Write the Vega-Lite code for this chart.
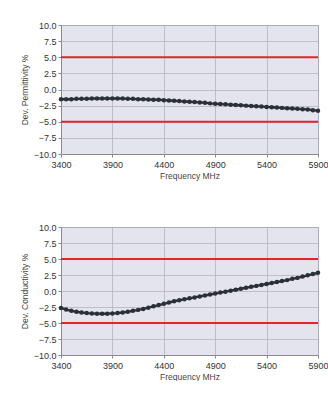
{
  "$schema": "https://vega.github.io/schema/vega-lite/v6.json",
  "background": "white",
  "padding": {"left": 19, "top": 20, "right": 0, "bottom": 0},
  "spacing": 42,
  "datasets": {
    "perm": [
      {"f": 3400, "v": -1.5}, {"f": 3450, "v": -1.5}, {"f": 3500, "v": -1.5}, {"f": 3550, "v": -1.45}, {"f": 3600, "v": -1.45},
      {"f": 3650, "v": -1.45}, {"f": 3700, "v": -1.4}, {"f": 3750, "v": -1.4}, {"f": 3800, "v": -1.4}, {"f": 3850, "v": -1.4},
      {"f": 3900, "v": -1.4}, {"f": 3950, "v": -1.4}, {"f": 4000, "v": -1.4}, {"f": 4050, "v": -1.45}, {"f": 4100, "v": -1.45},
      {"f": 4150, "v": -1.5}, {"f": 4200, "v": -1.5}, {"f": 4250, "v": -1.55}, {"f": 4300, "v": -1.6}, {"f": 4350, "v": -1.6},
      {"f": 4400, "v": -1.65}, {"f": 4450, "v": -1.7}, {"f": 4500, "v": -1.75}, {"f": 4550, "v": -1.8}, {"f": 4600, "v": -1.85},
      {"f": 4650, "v": -1.9}, {"f": 4700, "v": -1.95}, {"f": 4750, "v": -2.0}, {"f": 4800, "v": -2.05}, {"f": 4850, "v": -2.15},
      {"f": 4900, "v": -2.2}, {"f": 4950, "v": -2.25}, {"f": 5000, "v": -2.3}, {"f": 5050, "v": -2.35}, {"f": 5100, "v": -2.4},
      {"f": 5150, "v": -2.45}, {"f": 5200, "v": -2.5}, {"f": 5250, "v": -2.55}, {"f": 5300, "v": -2.6}, {"f": 5350, "v": -2.65},
      {"f": 5400, "v": -2.7}, {"f": 5450, "v": -2.75}, {"f": 5500, "v": -2.8}, {"f": 5550, "v": -2.85}, {"f": 5600, "v": -2.9},
      {"f": 5650, "v": -2.95}, {"f": 5700, "v": -3.0}, {"f": 5750, "v": -3.05}, {"f": 5800, "v": -3.1}, {"f": 5850, "v": -3.2},
      {"f": 5900, "v": -3.3}
    ],
    "cond": [
      {"f": 3400, "v": -2.65}, {"f": 3450, "v": -2.9}, {"f": 3500, "v": -3.1}, {"f": 3550, "v": -3.25}, {"f": 3600, "v": -3.35},
      {"f": 3650, "v": -3.45}, {"f": 3700, "v": -3.5}, {"f": 3750, "v": -3.55}, {"f": 3800, "v": -3.55}, {"f": 3850, "v": -3.55},
      {"f": 3900, "v": -3.5}, {"f": 3950, "v": -3.45}, {"f": 4000, "v": -3.35}, {"f": 4050, "v": -3.25}, {"f": 4100, "v": -3.1},
      {"f": 4150, "v": -2.95}, {"f": 4200, "v": -2.8}, {"f": 4250, "v": -2.6}, {"f": 4300, "v": -2.4}, {"f": 4350, "v": -2.2},
      {"f": 4400, "v": -2.0}, {"f": 4450, "v": -1.8}, {"f": 4500, "v": -1.6}, {"f": 4550, "v": -1.45}, {"f": 4600, "v": -1.3},
      {"f": 4650, "v": -1.15}, {"f": 4700, "v": -1.0}, {"f": 4750, "v": -0.85}, {"f": 4800, "v": -0.7}, {"f": 4850, "v": -0.55},
      {"f": 4900, "v": -0.4}, {"f": 4950, "v": -0.25}, {"f": 5000, "v": -0.1}, {"f": 5050, "v": 0.05}, {"f": 5100, "v": 0.2},
      {"f": 5150, "v": 0.35}, {"f": 5200, "v": 0.5}, {"f": 5250, "v": 0.65}, {"f": 5300, "v": 0.8}, {"f": 5350, "v": 0.95},
      {"f": 5400, "v": 1.1}, {"f": 5450, "v": 1.25}, {"f": 5500, "v": 1.4}, {"f": 5550, "v": 1.55}, {"f": 5600, "v": 1.7},
      {"f": 5650, "v": 1.9}, {"f": 5700, "v": 2.05}, {"f": 5750, "v": 2.25}, {"f": 5800, "v": 2.45}, {"f": 5850, "v": 2.65},
      {"f": 5900, "v": 2.85}
    ],
    "limits": [{"y": 5}, {"y": -5}]
  },
  "config": {
    "font": "Liberation Sans",
    "view": {"fill": "#e4e4ee", "stroke": "#8a8a8a", "strokeWidth": 1},
    "axis": {
      "labelFont": "Liberation Sans",
      "titleFont": "Liberation Sans",
      "labelFontSize": 9,
      "titleFontSize": 8.5,
      "titleFontWeight": "normal",
      "labelColor": "#333333",
      "titleColor": "#444444",
      "gridColor": "#b4b4bc",
      "gridWidth": 0.8,
      "domainColor": "#8a8a8a",
      "tickColor": "#8a8a8a",
      "tickSize": 3,
      "labelOverlap": false,
      "labelFlush": false
    }
  },
  "vconcat": [
    {
      "width": 257,
      "height": 129,
      "layer": [
        {
          "data": {"name": "limits"},
          "mark": {"type": "rule", "color": "#e0262c", "strokeWidth": 2.2},
          "encoding": {"y": {"field": "y", "type": "quantitative", "scale": {"domain": [-10, 10], "nice": false},
                  "axis": {"values": [-10, -7.5, -5, -2.5, 0, 2.5, 5, 7.5, 10], "format": ".1f", "title": "Dev. Permittivity %", "titlePadding": 4, "labelPadding": 2}}}
        },
        {
          "data": {"name": "perm"},
          "mark": {"type": "line", "color": "#2b3038", "strokeWidth": 2.4, "point": {"filled": true, "size": 20, "color": "#2b3038"}},
          "encoding": {
            "x": {"field": "f", "type": "quantitative", "scale": {"domain": [3400, 5900], "nice": false, "zero": false},
                  "axis": {"values": [3400, 3900, 4400, 4900, 5400, 5900], "title": "Frequency MHz", "format": "d", "titlePadding": 2, "labelPadding": 3}},
            "y": {"field": "v", "type": "quantitative", "scale": {"domain": [-10, 10], "nice": false},
                  "axis": {"values": [-10, -7.5, -5, -2.5, 0, 2.5, 5, 7.5, 10], "format": ".1f", "title": "Dev. Permittivity %", "titlePadding": 4, "labelPadding": 2}}
          }
        }
      ]
    },
    {
      "width": 257,
      "height": 128,
      "layer": [
        {
          "data": {"name": "limits"},
          "mark": {"type": "rule", "color": "#e0262c", "strokeWidth": 2.2},
          "encoding": {"y": {"field": "y", "type": "quantitative", "scale": {"domain": [-10, 10], "nice": false},
                  "axis": {"values": [-10, -7.5, -5, -2.5, 0, 2.5, 5, 7.5, 10], "format": ".1f", "title": "Dev. Conductivity %", "titlePadding": 4, "labelPadding": 2}}}
        },
        {
          "data": {"name": "cond"},
          "mark": {"type": "line", "color": "#2b3038", "strokeWidth": 2.4, "point": {"filled": true, "size": 20, "color": "#2b3038"}},
          "encoding": {
            "x": {"field": "f", "type": "quantitative", "scale": {"domain": [3400, 5900], "nice": false, "zero": false},
                  "axis": {"values": [3400, 3900, 4400, 4900, 5400, 5900], "title": "Frequency MHz", "format": "d", "titlePadding": 2, "labelPadding": 3}},
            "y": {"field": "v", "type": "quantitative", "scale": {"domain": [-10, 10], "nice": false},
                  "axis": {"values": [-10, -7.5, -5, -2.5, 0, 2.5, 5, 7.5, 10], "format": ".1f", "title": "Dev. Conductivity %", "titlePadding": 4, "labelPadding": 2}}
          }
        }
      ]
    }
  ]
}
